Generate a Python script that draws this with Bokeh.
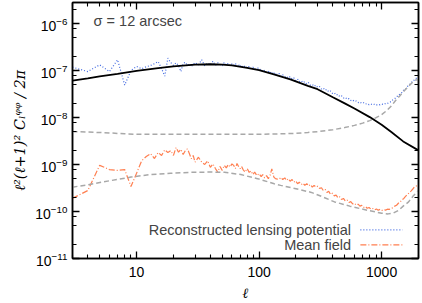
from bokeh.plotting import figure
from bokeh.models import (Range1d, LinearScale, LogAxis, FixedTicker,
                          CustomJSTickFormatter, Label)
from bokeh.embed import file_html
from bokeh.resources import INLINE

# ---------------- data ----------------
# multipoles of the noisy binned spectra
ell = [3, 4, 5, 6, 7, 8, 9, 10, 11, 12, 13, 14, 15, 16, 17, 18, 19, 20, 21, 22,
       23, 24, 25, 26, 27, 28, 29, 30,
       32, 34, 36, 38, 40, 42, 44, 46, 48, 50, 52, 54, 56, 58, 60, 62, 64, 66,
       68, 70, 72, 74, 77, 80, 83, 86, 89, 92, 96,
       100, 104, 107, 111, 115, 119, 123, 127, 132, 136,
       141, 146, 151, 156, 162, 167, 173, 179, 186, 192,
       199, 206, 213, 221, 228, 236, 245, 253, 262, 272,
       281, 291, 301, 312, 323, 334, 346, 358, 370, 383,
       397, 411, 425, 440, 455, 471, 488, 505, 523, 541,
       560, 580, 600, 621, 643, 665, 689, 713, 738, 763,
       790, 818, 846, 876, 907, 938, 971, 1005, 1040, 1077,
       1115, 1154, 1194, 1236, 1279, 1324, 1370, 1418, 1468, 1519,
       1573, 1628, 1685, 1744, 1805, 1868, 1933, 2000]

# reconstructed lensing potential, units of 1e-8
recon_e8 = [11.8, 9.5, 13.2, 9.5, 16.9, 4.9, 10.0, 12.2, 10.9, 12.0, 12.8, 14.0,
            15.5, 11.0, 7.6, 18.3, 14.8, 12.8, 14.6, 12.8, 9.5, 14.0, 15.0, 12.8,
            14.0, 12.2, 13.5, 14.8,
            13.2, 17.0, 12.6, 14.4, 13.0, 15.8, 12.9, 14.6, 13.5, 12.4, 14.9, 13.1,
            14.2, 12.6, 13.8, 12.9, 14.3, 12.2, 13.4, 12.0, 13.1, 11.6, 12.6, 11.3,
            12.2, 11.0, 11.8, 10.6, 11.2,
            11.3, 9.6, 10.4, 9.9, 9.1, 9.8, 8.8, 9.4, 8.3, 9.0,
            8.1, 8.6, 7.5, 8.1, 7.3, 7.6, 6.9, 7.4, 6.6, 7.0,
            6.1, 6.6, 5.8, 6.1, 5.5, 5.8, 5.15, 5.5, 4.9, 5.1,
            4.6, 4.85, 4.35, 4.55, 4.05, 4.25, 3.8, 3.95, 3.5, 3.65,
            3.25, 3.35, 3.0, 3.1, 2.78, 2.9, 2.6, 2.7, 2.45, 2.52,
            2.3, 2.38, 2.18, 2.24, 2.07, 2.14, 1.99, 2.06, 1.93, 1.99,
            1.88, 1.95, 1.85, 1.92, 1.84, 1.92, 1.86, 1.93, 1.88, 1.99,
            1.98, 2.14, 2.16, 2.38, 2.5, 2.78, 2.9, 3.25, 3.4, 3.9,
            4.05, 4.6, 4.9, 5.6, 5.8, 6.6, 6.9, 6.85]

# mean field, units of 1e-10
meanfield_e10 = [1.9, 2.8, 9.6, 7.8, 7.5, 7.8, 3.4, 6.5, 12.0, 14.8, 17.0, 13.4,
                 18.0, 15.6, 20.5, 18.0, 19.8, 15.6, 23.0, 18.3, 21.0, 16.3, 19.8,
                 21.5, 17.0, 13.3, 15.6, 11.2,
                 14.3, 11.2, 10.0, 12.0, 8.7, 10.3, 8.2, 6.9, 9.1, 7.5, 9.6, 8.5,
                 10.0, 8.9, 10.3, 9.6, 8.2, 10.5, 9.1, 8.2, 9.1, 7.8, 6.9, 8.2, 6.8,
                 7.3, 6.1, 6.9, 5.8,
                 6.4, 5.5, 6.1, 5.2, 5.8, 5.0, 5.9, 8.1, 5.4, 5.0,
                 4.9, 4.9, 5.3, 4.8, 5.2, 4.6, 5.0, 4.4, 4.8, 4.2,
                 4.5, 3.9, 4.2, 3.75, 4.0, 3.6, 3.9, 3.5, 3.75, 3.3,
                 3.6, 3.3, 3.45, 3.1, 3.2, 2.8, 2.95, 2.55, 2.7, 2.3,
                 2.45, 2.15, 2.25, 1.95, 2.05, 1.8, 1.9, 1.68, 1.75, 1.55,
                 1.62, 1.45, 1.5, 1.37, 1.43, 1.3, 1.35, 1.22, 1.28, 1.17,
                 1.22, 1.12, 1.16, 1.08, 1.13, 1.06, 1.11, 1.05, 1.1, 1.07,
                 1.12, 1.11, 1.17, 1.2, 1.3, 1.36, 1.5, 1.6, 1.78, 1.9,
                 2.12, 2.3, 2.55, 2.75, 3.05, 3.4, 3.5, 3.35]

# theory lensing potential spectrum (black), units of 1e-8
ell_theory = [3, 4, 5, 7, 10, 15, 20, 30, 40, 50, 60, 80, 100, 130, 180, 250,
              300, 400, 500, 600, 800, 1000, 1200, 1500, 2000]
theory_e8 = [6.1, 6.8, 7.5, 8.5, 9.8, 11.2, 12.2, 13.3, 13.6, 13.3, 12.8, 11.4,
             10.2, 8.4, 6.5, 4.7, 4.0, 2.7, 2.0, 1.55, 1.02, 0.70, 0.49, 0.31, 0.20]

# expected noise of the reconstruction (upper grey dashed), units of 1e-9
ell_noise = [3, 4, 5, 6, 8, 10, 15, 20, 30, 50, 70, 100, 150, 200, 250, 300,
             400, 500, 600, 700, 800, 900, 1000, 1100, 1200, 1300, 1400, 1500,
             1600, 1700, 1800, 1900, 2000]
noise_e9 = [5.0, 4.9, 4.8, 4.7, 4.5, 4.4, 4.4, 4.4, 4.4, 4.4, 4.4, 4.4, 4.5, 4.6,
            4.8, 5.0, 5.5, 6.1, 6.8, 7.6, 8.6, 9.9, 11.5, 14.0, 17.5, 23.0, 28.5,
            35.0, 42.0, 49.5, 57.0, 63.0, 63.5]

# expected mean field (lower grey dashed), units of 1e-10
ell_mfexp = [3, 4, 6, 9, 13, 19, 28, 40, 52, 71, 97, 133, 150, 200, 267, 330,
             413, 550, 778, 1000, 1130, 1250, 1370, 1500, 1660, 1800, 1940, 2000]
mfexp_e10 = [3.3, 3.7, 4.5, 5.4, 6.1, 6.5, 6.85, 6.9, 6.85, 6.1, 5.0, 3.9, 3.6,
             3.05, 2.55, 2.05, 1.6, 1.3, 1.05, 0.92, 0.89, 0.93, 1.05, 1.3, 1.6,
             2.1, 2.6, 2.8]

x_major = [10, 100, 1000]
y_major_exp = [-11, -10, -9, -8, -7, -6]

recon = [v * 1e-8 for v in recon_e8]
meanfield = [v * 1e-10 for v in meanfield_e10]
theory = [v * 1e-8 for v in theory_e8]
noise = [v * 1e-9 for v in noise_e9]
mfexp = [v * 1e-10 for v in mfexp_e10]

# ---------------- figure ----------------
FONT = "Liberation Sans"

p = figure(width=422, height=303, x_axis_type="log", y_axis_type="log",
           x_range=Range1d(3, 2000), y_range=Range1d(1e-11, 2.8e-6),
           output_backend="svg", toolbar_location=None,
           min_border_left=72, min_border_right=4, min_border_top=2,
           min_border_bottom=44)
p.styles = {"position": "absolute", "left": "0px", "top": "0px"}
p.xgrid.visible = False
p.ygrid.visible = False
p.outline_line_color = "black"
p.outline_line_width = 1.5
p.background_fill_color = "white"
p.border_fill_color = "white"

x_minor = [m * d for d in (1, 10, 100) for m in range(2, 10)] + [2000]
y_minor = [m * 10.0 ** e for e in range(-11, -5) for m in (2, 5, 8)]
xticker = FixedTicker(ticks=x_major, minor_ticks=x_minor)
yticker = FixedTicker(ticks=[10.0 ** e for e in y_major_exp], minor_ticks=y_minor)

def style_axis(ax):
    ax.major_tick_in = 7
    ax.major_tick_out = 0
    ax.minor_tick_in = 4
    ax.minor_tick_out = 0
    ax.axis_line_width = 1.5
    ax.axis_line_color = "black"
    ax.major_tick_line_width = 1.3
    ax.minor_tick_line_width = 1.1
    ax.major_tick_line_color = "black"
    ax.minor_tick_line_color = "black"
    ax.major_label_text_font = FONT
    ax.major_label_text_font_size = "14px"
    ax.major_label_text_color = "black"

xa = p.xaxis[0]
ya = p.yaxis[0]
xa.ticker = xticker
ya.ticker = yticker
xa.formatter = CustomJSTickFormatter(code="return tick.toFixed(0)")
style_axis(xa)
style_axis(ya)
xa.major_label_standoff = 8
ya.major_label_standoff = 5

xa.axis_label = "ℓ"
xa.axis_label_text_font = "DejaVu Serif"
xa.axis_label_text_font_style = "italic"
xa.axis_label_text_font_size = "14px"
xa.axis_label_text_color = "black"
xa.axis_label_standoff = 5

ya.axis_label = "ℓ²(ℓ+1)² Cₗᵠᵠ / 2π"
ya.axis_label_text_font = "DejaVu Serif"
ya.axis_label_text_font_style = "italic"
ya.axis_label_text_font_size = "14.5px"
ya.axis_label_text_color = "black"
ya.axis_label_standoff = 4

blank = CustomJSTickFormatter(code="return ''")
right_ax = LogAxis(ticker=yticker, formatter=blank)
top_ax = LogAxis(ticker=xticker, formatter=blank)
for ax in (right_ax, top_ax):
    style_axis(ax)
    ax.major_label_text_font_size = "0px"
    ax.major_label_standoff = 0
p.add_layout(right_ax, "right")
p.add_layout(top_ax, "above")

# ---------------- curves ----------------
BLUE = "#4169e1"
ORANGE = "#ff7f50"
GREY = "#a8a8a8"

p.line(ell, recon, color=BLUE, line_width=1.2, line_dash="1 2")
p.line(ell, meanfield, color=ORANGE, line_width=1.2, line_dash="6 2 1 2")
p.line(ell_noise, noise, color=GREY, line_width=1.5, line_dash="5 3")
p.line(ell_mfexp, mfexp, color=GREY, line_width=1.5, line_dash="5 3")
p.line(ell_theory, theory, color="black", line_width=1.8)

# ---------------- annotations (frame-fraction coordinates) ----------------
p.extra_x_ranges = {"fx": Range1d(0, 1)}
p.extra_y_ranges = {"fy": Range1d(0, 1)}
p.extra_x_scales = {"fx": LinearScale()}
p.extra_y_scales = {"fy": LinearScale()}

p.add_layout(Label(x=0.061, y=0.927, x_range_name="fx", y_range_name="fy",
                   text="σ = 12 arcsec", text_font=FONT, text_font_size="14.5px",
                   text_baseline="middle", text_align="left"))

legend_rows = [("Reconstructed lensing potential", BLUE, "1 2", 0.112),
               ("Mean field", ORANGE, "6 2 1 2", 0.053)]
for txt, col, dash, fy in legend_rows:
    p.add_layout(Label(x=0.805, y=fy, x_range_name="fx", y_range_name="fy",
                       text=txt, text_font=FONT, text_font_size="14.5px",
                       text_baseline="middle", text_align="right"))
    p.line([0.832, 0.954], [fy, fy], x_range_name="fx", y_range_name="fy",
           color=col, line_width=1.2, line_dash=dash)

open("out.html", "w").write(file_html(p, INLINE))
